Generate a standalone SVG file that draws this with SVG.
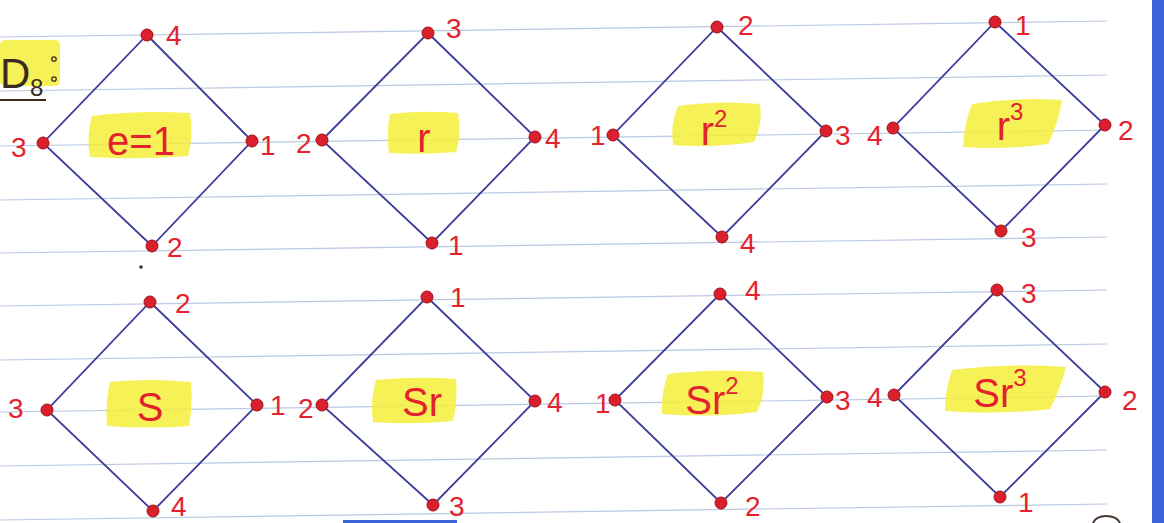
<svg xmlns="http://www.w3.org/2000/svg" width="1164" height="523" viewBox="0 0 1164 523">
<style>
.rule{stroke:#b9c9e2;stroke-width:1.2}
.edge{stroke:#3b3b9c;stroke-width:1.8;fill:none;stroke-linecap:round}
.dot{fill:#d9202c;stroke:#a01018;stroke-width:1}
.num{font-family:"Liberation Sans",Arial,sans-serif;font-size:28px;fill:#e3222d}
.hl{fill:#f4ef3a;opacity:0.85}
.lbl{font-family:"Liberation Sans",Arial,sans-serif;font-size:40px;fill:#e3222d;text-anchor:middle}
.sup{font-size:24px}
.ink{font-family:"Liberation Sans",Arial,sans-serif;fill:#3a2b22}
</style>
<rect width="1164" height="523" fill="#ffffff"/>
<g id="paper">
<line class="rule" x1="0" y1="37" x2="1107" y2="21"/>
<line class="rule" x1="0" y1="91" x2="1107" y2="75"/>
<line class="rule" x1="0" y1="146" x2="1107" y2="130"/>
<line class="rule" x1="0" y1="200" x2="1107" y2="184"/>
<line class="rule" x1="0" y1="253" x2="1107" y2="237"/>
<line class="rule" x1="0" y1="306" x2="1107" y2="290"/>
<line class="rule" x1="0" y1="360" x2="1107" y2="344"/>
<line class="rule" x1="0" y1="412" x2="1107" y2="396"/>
<line class="rule" x1="0" y1="466" x2="1107" y2="450"/>
<line class="rule" x1="0" y1="520" x2="1107" y2="504"/>
<rect x="1152" y="0" width="12" height="523" fill="#3c62d8"/>
<line x1="343" y1="521.5" x2="457" y2="521.5" stroke="#3c62d8" stroke-width="3"/>
<path d="M1093 523 Q1096 516 1106 516 Q1117 516 1120 523" fill="none" stroke="#4a3530" stroke-width="2"/>
<circle cx="141" cy="267" r="1.8" fill="#333"/>
</g>
<g id="title">
<rect x="0" y="40" width="60" height="46" rx="5" class="hl"/>
<text class="ink" x="0" y="88" font-size="42">D</text>
<text class="ink" x="30" y="96" font-size="24">8</text>
<circle cx="54" cy="59" r="2.2" fill="none" stroke="#3a2b22" stroke-width="1.3"/>
<circle cx="54" cy="79" r="2.2" fill="none" stroke="#3a2b22" stroke-width="1.3"/>
<line x1="0" y1="100" x2="46" y2="100" stroke="#3a2b22" stroke-width="2"/>
</g>
<g id="connectors">
<polygon class="edge" points="147,35 252,141 152,246 43,143"/>
<polygon class="edge" points="428,33 535,137 432,243 322,140"/>
<polygon class="edge" points="717,27 826,131 722,237 613,135"/>
<polygon class="edge" points="995,22 1105,125 1001,231 893,128"/>
<polygon class="edge" points="150,302 257,405 153,511 47,410"/>
<polygon class="edge" points="427,297 535,401 433,505 322,405"/>
<polygon class="edge" points="720,294 827,397 721,503 615,400"/>
<polygon class="edge" points="997,290 1105,392 1000,497 894,395"/>
</g>
<g id="node-e">
<path class="hl" d="M92 116 Q140 110 190 113 Q194 135 188 156 Q140 160 90 157 Q86 136 92 116Z"/>
<text class="lbl" x="141" y="155">e=1</text>
<circle class="dot" cx="147" cy="35" r="6"/><text class="num" x="166" y="45">4</text>
<circle class="dot" cx="252" cy="141" r="6"/><text class="num" x="260" y="155">1</text>
<circle class="dot" cx="152" cy="246" r="6"/><text class="num" x="167" y="257">2</text>
<circle class="dot" cx="43" cy="143" r="6"/><text class="num" x="11" y="157">3</text>
</g>
<g id="node-r">
<path class="hl" d="M390 114 Q425 110 458 113 Q462 133 456 152 Q422 155 389 153 Q386 133 390 114Z"/>
<text class="lbl" x="424" y="152">r</text>
<circle class="dot" cx="428" cy="33" r="6"/><text class="num" x="446" y="38">3</text>
<circle class="dot" cx="535" cy="137" r="6"/><text class="num" x="545" y="148">4</text>
<circle class="dot" cx="432" cy="243" r="6"/><text class="num" x="448" y="255">1</text>
<circle class="dot" cx="322" cy="140" r="6"/><text class="num" x="296" y="153">2</text>
</g>
<g id="node-r2">
<path class="hl" d="M678 106 Q720 100 760 104 Q763 124 754 142 Q715 148 673 145 Q670 124 678 106Z"/>
<text class="lbl" x="714" y="145">r<tspan class="sup" dy="-18">2</tspan></text>
<circle class="dot" cx="717" cy="27" r="6"/><text class="num" x="738" y="35">2</text>
<circle class="dot" cx="826" cy="131" r="6"/><text class="num" x="835" y="145">3</text>
<circle class="dot" cx="722" cy="237" r="6"/><text class="num" x="740" y="253">4</text>
<circle class="dot" cx="613" cy="135" r="6"/><text class="num" x="590" y="145">1</text>
</g>
<g id="node-r3">
<path class="hl" d="M972 104 Q1015 97 1062 100 Q1058 124 1048 144 Q1005 150 963 147 Q964 124 972 104Z"/>
<text class="lbl" x="1010" y="140">r<tspan class="sup" dy="-20">3</tspan></text>
<circle class="dot" cx="995" cy="22" r="6"/><text class="num" x="1015" y="35">1</text>
<circle class="dot" cx="1105" cy="125" r="6"/><text class="num" x="1118" y="140">2</text>
<circle class="dot" cx="1001" cy="231" r="6"/><text class="num" x="1021" y="247">3</text>
<circle class="dot" cx="893" cy="128" r="6"/><text class="num" x="867" y="145">4</text>
</g>
<g id="node-s">
<path class="hl" d="M110 382 Q150 378 191 382 Q193 405 189 426 Q148 429 107 426 Q105 404 110 382Z"/>
<text class="lbl" x="150" y="421">S</text>
<circle class="dot" cx="150" cy="302" r="6"/><text class="num" x="175" y="313">2</text>
<circle class="dot" cx="257" cy="405" r="6"/><text class="num" x="270" y="415">1</text>
<circle class="dot" cx="153" cy="511" r="6"/><text class="num" x="171" y="516">4</text>
<circle class="dot" cx="47" cy="410" r="6"/><text class="num" x="8" y="418">3</text>
</g>
<g id="node-sr">
<path class="hl" d="M376 380 Q415 376 456 379 Q458 400 453 421 Q412 425 373 422 Q370 400 376 380Z"/>
<text class="lbl" x="422" y="416">Sr</text>
<circle class="dot" cx="427" cy="297" r="6"/><text class="num" x="450" y="307">1</text>
<circle class="dot" cx="535" cy="401" r="6"/><text class="num" x="547" y="412">4</text>
<circle class="dot" cx="433" cy="505" r="6"/><text class="num" x="449" y="516">3</text>
<circle class="dot" cx="322" cy="405" r="6"/><text class="num" x="298" y="418">2</text>
</g>
<g id="node-sr2">
<path class="hl" d="M668 374 Q715 368 763 372 Q766 393 757 412 Q710 418 662 414 Q661 392 668 374Z"/>
<text class="lbl" x="712" y="414">Sr<tspan class="sup" dy="-20">2</tspan></text>
<circle class="dot" cx="720" cy="294" r="6"/><text class="num" x="745" y="300">4</text>
<circle class="dot" cx="827" cy="397" r="6"/><text class="num" x="835" y="410">3</text>
<circle class="dot" cx="721" cy="503" r="6"/><text class="num" x="745" y="516">2</text>
<circle class="dot" cx="615" cy="400" r="6"/><text class="num" x="595" y="413">1</text>
</g>
<g id="node-sr3">
<path class="hl" d="M952 370 Q1010 363 1066 367 Q1060 390 1050 409 Q1000 415 945 411 Q945 390 952 370Z"/>
<text class="lbl" x="1000" y="407">Sr<tspan class="sup" dy="-21">3</tspan></text>
<circle class="dot" cx="997" cy="290" r="6"/><text class="num" x="1021" y="303">3</text>
<circle class="dot" cx="1105" cy="392" r="6"/><text class="num" x="1122" y="410">2</text>
<circle class="dot" cx="1000" cy="497" r="6"/><text class="num" x="1018" y="512">1</text>
<circle class="dot" cx="894" cy="395" r="6"/><text class="num" x="867" y="407">4</text>
</g>
</svg>
